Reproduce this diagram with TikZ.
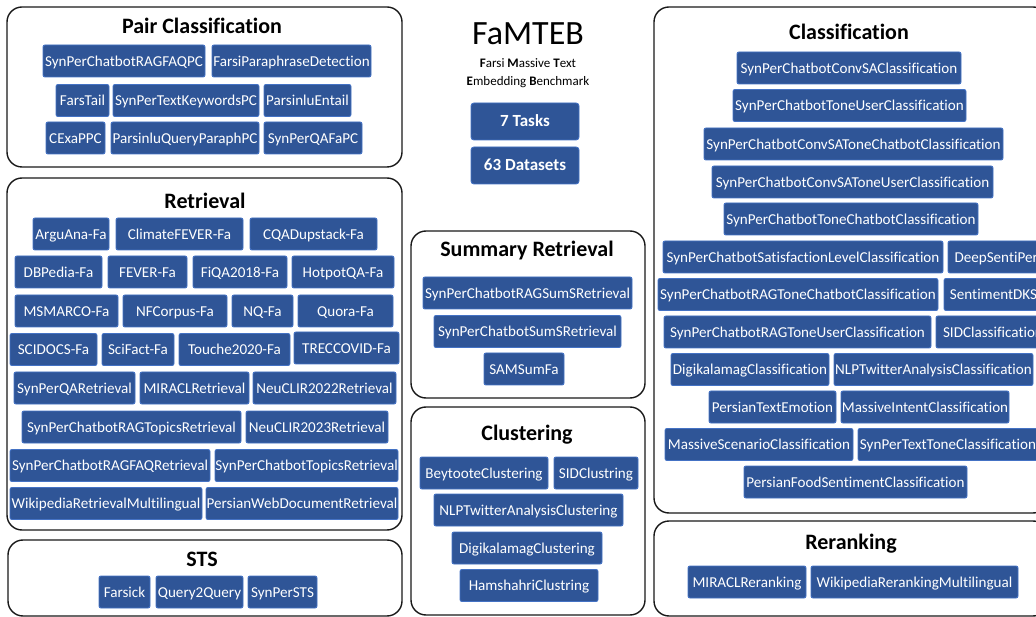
\documentclass[tikz,border=0pt]{standalone}
\usepackage{fontspec}
\setmainfont{Carlito}[Ligatures=NoCommon]
\usepackage{xcolor}
\definecolor{dsetfill}{HTML}{2F5597}
\definecolor{dsetedge}{HTML}{4472C4}
\tikzset{
  dset/.style={draw=dsetedge,fill=dsetfill,text=white,line width=0.9,rounded corners=2,inner sep=0,minimum height=32,text height=10.3,text depth=0,font=\fontsize{15.1}{18}\selectfont},
  group/.style={draw=black!90,line width=1.4,rounded corners=15},
  gtitle/.style={inner sep=0,text height=14,text depth=0,font=\fontsize{22}{26}\selectfont\bfseries},
  countbox/.style={dset,rounded corners=3,minimum width=108,minimum height=37,text height=11,font=\fontsize{17}{20}\selectfont\bfseries}
}
\begin{document}
\begin{tikzpicture}[x=1pt,y=-1pt]
\clip (0,0) rectangle (1036,617);
\fill[white] (0,0) rectangle (1036,617);
\draw[group] (7,7) rectangle (402,167);
\node[gtitle] (tpair) at (202,26.5) {Pair Classification};
\node[dset,minimum width=162] (pc1) at (124,61) {SynPerChatbotRAGFAQPC};
\node[dset,minimum width=159] (pc2) at (291.5,61) {FarsiParaphraseDetection};
\node[dset,minimum width=53] (pc3) at (82.5,100.5) {FarsTail};
\node[dset,minimum width=146] (pc4) at (186,100.5) {SynPerTextKeywordsPC};
\node[dset,minimum width=87] (pc5) at (307.5,100.5) {ParsinluEntail};
\node[dset,minimum width=59] (pc6) at (75.5,138) {CExaPPC};
\node[dset,minimum width=148] (pc7) at (185,138) {ParsinluQueryParaphPC};
\node[dset,minimum width=98] (pc8) at (313,138) {SynPerQAFaPC};
\draw[group] (7,178) rectangle (402,530);
\node[gtitle] (tret) at (205,202) {Retrieval};
\node[dset,minimum width=76] (ret1) at (71,234) {ArguAna-Fa};
\node[dset,minimum width=127] (ret2) at (179.5,234) {ClimateFEVER-Fa};
\node[dset,minimum width=127] (ret3) at (313.5,234) {CQADupstack-Fa};
\node[dset,minimum width=87] (ret4) at (58.5,272) {DBPedia-Fa};
\node[dset,minimum width=79] (ret5) at (147.5,272) {FEVER-Fa};
\node[dset,minimum width=94] (ret6) at (240,272) {FiQA2018-Fa};
\node[dset,minimum width=102] (ret7) at (343,272) {HotpotQA-Fa};
\node[dset,minimum width=103] (ret8) at (66.5,311) {MSMARCO-Fa};
\node[dset,minimum width=104] (ret9) at (175,311) {NFCorpus-Fa};
\node[dset,minimum width=61] (ret10) at (262.5,311) {NQ-Fa};
\node[dset,minimum width=95] (ret11) at (345.5,311) {Quora-Fa};
\node[dset,minimum width=87] (ret12) at (53.5,349.5) {SCIDOCS-Fa};
\node[dset,minimum width=72] (ret13) at (138,349.5) {SciFact-Fa};
\node[dset,minimum width=111] (ret14) at (234.5,349.5) {Touche2020-Fa};
\node[dset,minimum width=105] (ret15) at (346.5,348) {TRECCOVID-Fa};
\node[dset,minimum width=121] (ret16) at (74.5,388) {SynPerQARetrieval};
\node[dset,minimum width=109] (ret17) at (194.5,388) {MIRACLRetrieval};
\node[dset,minimum width=143] (ret18) at (324.5,388) {NeuCLIR2022Retrieval};
\node[dset,minimum width=219] (ret19) at (131.5,427) {SynPerChatbotRAGTopicsRetrieval};
\node[dset,minimum width=142] (ret20) at (317,427) {NeuCLIR2023Retrieval};
\node[dset,minimum width=200] (ret21) at (110,465.5) {SynPerChatbotRAGFAQRetrieval};
\node[dset,minimum width=183] (ret22) at (306.5,465.5) {SynPerChatbotTopicsRetrieval};
\node[dset,minimum width=192] (ret23) at (106,503.5) {WikipediaRetrievalMultilingual};
\node[dset,minimum width=192] (ret24) at (302,503.5) {PersianWebDocumentRetrieval};
\draw[group] (8,540) rectangle (402,616);
\node[gtitle] (tsts) at (202,559) {STS};
\node[dset,minimum width=51] (sts1) at (124.5,592) {Farsick};
\node[dset,minimum width=87] (sts2) at (199.5,592) {Query2Query};
\node[dset,minimum width=69] (sts3) at (282.5,592) {SynPerSTS};
\node[inner sep=0,text height=22,text depth=0,font=\fontsize{34}{40}\selectfont] (tname) at (528,34) {FaMTEB};
\node[inner sep=0,text height=8.4,text depth=0,font=\fontsize{13}{16}\selectfont] (tsub1) at (528,63.5) {\textbf{F}arsi \textbf{M}assive \textbf{T}ext};
\node[inner sep=0,text height=8.4,text depth=0,font=\fontsize{13}{16}\selectfont] (tsub2) at (528,81) {\textbf{E}mbedding \textbf{B}enchmark};
\node[countbox] (ntasks) at (525,121.5) {7 Tasks};
\node[countbox] (nsets) at (525,165.5) {63 Datasets};
\draw[group] (411,231) rectangle (645,398);
\node[gtitle] (tsum) at (527,250) {Summary Retrieval};
\node[dset,minimum width=209] (sum1) at (527.5,293) {SynPerChatbotRAGSumSRetrieval};
\node[dset,minimum width=187] (sum2) at (527.5,331.5) {SynPerChatbotSumSRetrieval};
\node[dset,minimum width=80] (sum3) at (524,369) {SAMSumFa};
\draw[group] (411,407) rectangle (645,615);
\node[gtitle] (tclu) at (527,433) {Clustering};
\node[dset,minimum width=128] (clu1) at (484,473) {BeytooteClustering};
\node[dset,minimum width=84] (clu2) at (596,473) {SIDClustring};
\node[dset,minimum width=189] (clu3) at (528.5,510) {NLPTwitterAnalysisClustering};
\node[dset,minimum width=150] (clu4) at (527,548) {DigikalamagClustering};
\node[dset,minimum width=138] (clu5) at (529,585.5) {HamshahriClustring};
\draw[group] (654,7) rectangle (1048,513);
\node[gtitle] (tcls) at (849,33) {Classification};
\node[dset,minimum width=224] (cls1) at (849,68) {SynPerChatbotConvSAClassification};
\node[dset,minimum width=233] (cls2) at (849.5,105.5) {SynPerChatbotToneUserClassification};
\node[dset,minimum width=299] (cls3) at (853.5,144) {SynPerChatbotConvSAToneChatbotClassification};
\node[dset,minimum width=281] (cls4) at (852.5,182) {SynPerChatbotConvSAToneUserClassification};
\node[dset,minimum width=254] (cls5) at (851,219) {SynPerChatbotToneChatbotClassification};
\node[dset,minimum width=280] (cls6) at (803,257) {SynPerChatbotSatisfactionLevelClassification};
\node[dset,minimum width=102] (cls7) at (999,257) {DeepSentiPers};
\node[dset,minimum width=280] (cls8) at (798,294.5) {SynPerChatbotRAGToneChatbotClassification};
\node[dset,minimum width=106] (cls9) at (997,294.5) {SentimentDKSF};
\node[dset,minimum width=267] (cls10) at (797.5,332) {SynPerChatbotRAGToneUserClassification};
\node[dset,minimum width=114] (cls11) at (993,332) {SIDClassification};
\node[dset,minimum width=158] (cls12) at (750,369.5) {DigikalamagClassification};
\node[dset,minimum width=199] (cls13) at (933.5,369.5) {NLPTwitterAnalysisClassification};
\node[dset,minimum width=127] (cls14) at (772.5,407) {PersianTextEmotion};
\node[dset,minimum width=168] (cls15) at (925,407) {MassiveIntentClassification};
\node[dset,minimum width=188] (cls16) at (759,444.5) {MassiveScenarioClassification};
\node[dset,minimum width=180] (cls17) at (948,444.5) {SynPerTextToneClassification};
\node[dset,minimum width=223] (cls18) at (855.5,482) {PersianFoodSentimentClassification};
\draw[group] (654,521) rectangle (1048,616);
\node[gtitle] (trr) at (851,542) {Reranking};
\node[dset,minimum width=118] (rr1) at (747,582) {MIRACLReranking};
\node[dset,minimum width=207] (rr2) at (914.5,582) {WikipediaRerankingMultilingual};
\end{tikzpicture}
\end{document}
